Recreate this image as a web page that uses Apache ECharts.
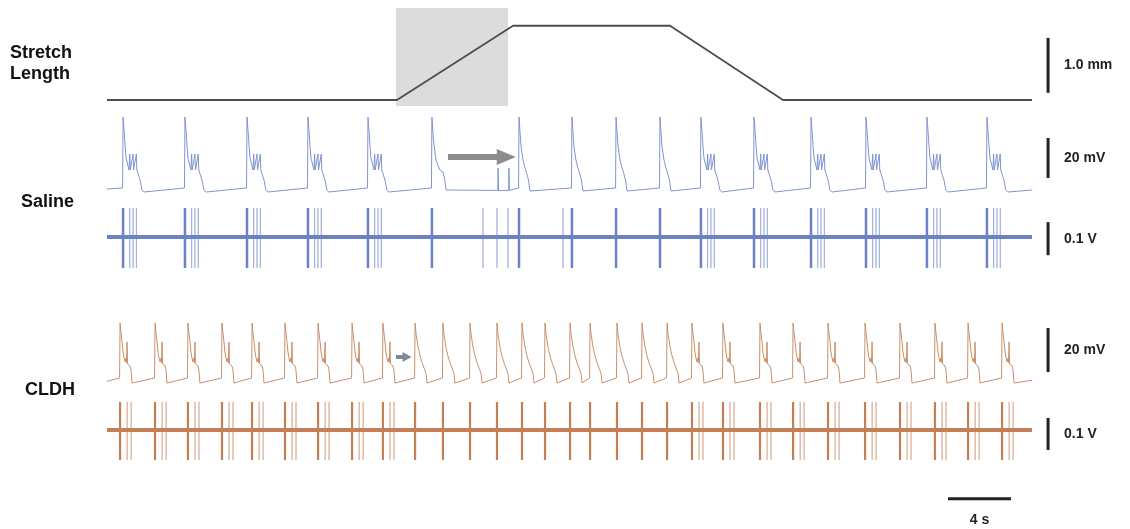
<!DOCTYPE html>
<html><head><meta charset="utf-8">
<script src="https://cdn.jsdelivr.net/npm/echarts@6/dist/echarts.min.js"></script>
<style>html,body{margin:0;padding:0;background:#fff}#c{width:1130px;height:529px}</style>
</head><body><div id="c"></div>
<script>
// ================= DATA (time in s, values in physical units) =================
const tEnd = 58.73;

// Stretch length trace (mm)
const stretchT  = [0, 18.41, 25.78, 35.75, 42.92, 58.73];
const stretchMm = [0, 0, 1.35, 1.35, 0, 0];
const stretchWindow = [18.35, 25.46];

// Saline intracellular bursts: peak times (s) and burst kind
const salineBurstT = [1.02, 4.95, 8.89, 12.76, 16.57, 20.63, 26.16, 29.52, 32.32, 35.11, 37.71, 41.08, 44.70, 48.19, 52.06, 55.87];
const salineBurstKind = ['full','full','full','full','full','mid','short','short','short','short','full','full','full','full','full','full'];
// burst waveforms: [dt (s), mV relative to rest]
const salineFullShape  = [[-0.03,0],[0,35.5],[0.063,29],[0.127,21.5],[0.19,15],[0.317,11],[0.38,9],[0.425,17],[0.457,9],[0.57,10],[0.635,17],[0.667,9],[0.76,10],[0.845,17],[0.876,9],[0.95,8],[1.08,4],[1.2,-1],[1.33,-2]];
const salineMidShape   = [[-0.03,0],[0,35.5],[0.063,28],[0.127,22],[0.254,14],[0.5,9],[0.6,10],[0.7,8],[0.8,5],[0.9,-1],[1.0,-2]];
const salineShortShape = [[-0.03,0],[0,35.5],[0.063,28],[0.127,21],[0.254,14],[0.38,10],[0.5,7],[0.6,4],[0.7,-1.5],[0.8,-2]];
const salineLoneSpikeT = [24.83, 25.52];
const loneSpikeShape   = [[-0.02,-1.2],[0,10],[0.03,-1.2]];
const salineStart = [0, -0.5];
const salineEnd   = [58.73, -1];

// Saline extracellular units: spike offsets (s) after each burst peak
const salineFullUnitOffsets = [0.425, 0.635, 0.845];
const salineMidUnitOffsets  = [];
const salineShortUnitOffsets = [];
const salineLoneUnitT = [23.87, 24.76, 25.46, 28.95];
const salineUnitTopV = 0.088, salineUnitBottomV = -0.094;

// CLDH intracellular bursts
const cldhBurstT = [0.83, 3.05, 5.14, 7.30, 9.21, 11.30, 13.40, 15.56, 17.52, 19.56, 21.33, 23.05, 24.76, 26.35, 27.81, 29.40, 30.67, 32.38, 33.97, 35.56, 37.14, 39.11, 41.46, 43.56, 45.78, 48.13, 50.35, 52.57, 54.67, 56.83];
const cldhBurstKind = ['full','full','full','full','full','full','full','full','full',
  'short','short','short','short','short','short','short','short','short','short','short',
  'full','full','full','full','full','full','full','full','full','full'];
const cldhFullShape  = [[-0.03,0],[0,25],[0.063,20.5],[0.127,16.4],[0.19,11.8],[0.254,9.1],[0.317,7.3],[0.38,9.1],[0.41,7],[0.444,16.4],[0.476,6.4],[0.571,7.3],[0.635,5.5],[0.698,3.6],[0.76,-2.3],[0.825,-2.7]];
const cldhShortShape = [[-0.03,0],[0,25],[0.063,20],[0.19,14],[0.317,10],[0.444,7],[0.571,4.5],[0.7,2],[0.76,-2.3],[0.825,-2.7]];
const cldhStart = [0, -1.5];
const cldhEnd   = [58.73, -1];

// CLDH extracellular units
const cldhFullUnitOffsets  = [0.45, 0.7];
const cldhShortUnitOffsets = [];
const cldhUnitTopV = 0.0875, cldhUnitBottomV = -0.094;

// Scale bars (physical sizes)
const lengthBarMm = [0.13, 1.13];
const salineMvBar = [5, 25];
const salineVBar  = [-0.055, 0.045];
const cldhMvBar   = [2.7, 22.7];
const cldhVBar    = [-0.0625, 0.0375];
const timeBarS    = [53.4, 57.4];
const scaleBarT   = 59.75;

// Arrows (data coords)
const salineArrow = [[21.65, 15.5], [25.35, 15.5]];
const cldhArrow   = [[18.35, 9.5], [19.05, 9.5]];

// ================= BUILD =================
function buildTrace(start, times, kinds, shapes, end, extra) {
  const d = [start];
  times.forEach((t, i) => shapes[kinds[i]].forEach(([dt, v]) => d.push([t + dt, v])));
  (extra || []).forEach(p => d.push(p));
  d.push(end);
  d.sort((a, b) => a[0] - b[0]);
  return d;
}
function unitLines(times, top, bottom) {
  const d = [];
  times.forEach(t => { d.push([t, 0], [t, top], [t, bottom], [t, 0]); });
  return d;
}
function unitTimes(times, kinds, offsets) {
  const out = [];
  times.forEach((t, i) => offsets[kinds[i]].forEach(o => out.push(t + o)));
  return out;
}

const salineLone = [];
salineLoneSpikeT.forEach(t => loneSpikeShape.forEach(([dt, v]) => salineLone.push([t + dt, v])));
const salineIntra = buildTrace(salineStart, salineBurstT, salineBurstKind,
  {full: salineFullShape, mid: salineMidShape, short: salineShortShape}, salineEnd, salineLone);
const cldhIntra = buildTrace(cldhStart, cldhBurstT, cldhBurstKind,
  {full: cldhFullShape, short: cldhShortShape}, cldhEnd);

const salineSecT = unitTimes(salineBurstT, salineBurstKind,
  {full: salineFullUnitOffsets, mid: salineMidUnitOffsets, short: salineShortUnitOffsets}).concat(salineLoneUnitT);
const cldhSecT = unitTimes(cldhBurstT, cldhBurstKind, {full: cldhFullUnitOffsets, short: cldhShortUnitOffsets});

const SAL_I = '#8193d0', SAL_E = '#6d82c6', CL_I = '#c98f6a', CL_E = '#c47f55';
const FONT = "'Liberation Sans', Arial, sans-serif";

const chart = echarts.init(document.getElementById('c'), null, {renderer: 'canvas'});
const gridDefs = [
  {top: 8,   height: 98, min: -0.109, max: 1.673},
  {top: 110, height: 90, min: -6,     max: 39},
  {top: 200, height: 75, min: -0.115, max: 0.112},
  {top: 310, height: 85, min: -7.73,  max: 30.9},
  {top: 395, height: 75, min: -0.125, max: 0.109}
];
const option = {
  animation: false,
  grid: gridDefs.map(g => ({left: 107, width: 925, top: g.top, height: g.height})),
  xAxis: gridDefs.map((g, i) => ({type: 'value', gridIndex: i, min: 0, max: tEnd, show: false})),
  yAxis: gridDefs.map((g, i) => ({type: 'value', gridIndex: i, min: g.min, max: g.max, show: false})),
  series: [
    {type: 'line', xAxisIndex: 0, yAxisIndex: 0, symbol: 'none', silent: true,
     data: stretchT.map((t, i) => [t, stretchMm[i]]),
     lineStyle: {color: '#4d4d4d', width: 1.8},
     markArea: {silent: true, itemStyle: {color: '#dcdcdc'},
       data: [[{xAxis: stretchWindow[0]}, {xAxis: stretchWindow[1]}]]}},
    {type: 'line', xAxisIndex: 1, yAxisIndex: 1, symbol: 'none', silent: true, data: salineIntra,
     lineStyle: {color: SAL_I, width: 1},
     markLine: {silent: true, symbol: ['none', 'triangle'], symbolSize: [16, 19], label: {show: false},
       lineStyle: {color: '#8c8c8c', width: 6, type: 'solid'},
       data: [[{coord: salineArrow[0]}, {coord: salineArrow[1]}]]}},
    {type: 'line', xAxisIndex: 2, yAxisIndex: 2, symbol: 'none', silent: true,
     data: unitLines(salineSecT, salineUnitTopV, salineUnitBottomV),
     lineStyle: {color: SAL_E, width: 1, opacity: 0.45}},
    {type: 'line', xAxisIndex: 2, yAxisIndex: 2, symbol: 'none', silent: true,
     data: unitLines(salineBurstT, salineUnitTopV, salineUnitBottomV),
     lineStyle: {color: SAL_E, width: 2.5}},
    {type: 'line', xAxisIndex: 2, yAxisIndex: 2, symbol: 'none', silent: true,
     data: [[0, 0], [tEnd, 0]], lineStyle: {color: SAL_E, width: 4}},
    {type: 'line', xAxisIndex: 3, yAxisIndex: 3, symbol: 'none', silent: true, data: cldhIntra,
     lineStyle: {color: CL_I, width: 1},
     markLine: {silent: true, symbol: ['none', 'triangle'], symbolSize: [10, 9], label: {show: false},
       lineStyle: {color: '#7f8a96', width: 4, type: 'solid'},
       data: [[{coord: cldhArrow[0]}, {coord: cldhArrow[1]}]]}},
    {type: 'line', xAxisIndex: 4, yAxisIndex: 4, symbol: 'none', silent: true,
     data: unitLines(cldhSecT, cldhUnitTopV, cldhUnitBottomV),
     lineStyle: {color: CL_E, width: 1, opacity: 0.45}},
    {type: 'line', xAxisIndex: 4, yAxisIndex: 4, symbol: 'none', silent: true,
     data: unitLines(cldhBurstT, cldhUnitTopV, cldhUnitBottomV),
     lineStyle: {color: CL_E, width: 2.2}},
    {type: 'line', xAxisIndex: 4, yAxisIndex: 4, symbol: 'none', silent: true,
     data: [[0, 0], [tEnd, 0]], lineStyle: {color: CL_E, width: 4}}
  ]
};
chart.setOption(option);

// ---- scale bars and labels ----
const px = (g, x, y) => chart.convertToPixel({gridIndex: g}, [x, y]);
const graphics = [];
function vbar(g, range, text) {
  const a = px(g, scaleBarT, range[0]), b = px(g, scaleBarT, range[1]);
  graphics.push({type: 'line', shape: {x1: a[0], y1: a[1], x2: b[0], y2: b[1]},
    style: {stroke: '#222', lineWidth: 3}});
  graphics.push({type: 'text', x: a[0] + 16, y: (a[1] + b[1]) / 2,
    style: {text: text, font: 'bold 14px ' + FONT, fill: '#222', textVerticalAlign: 'middle', verticalAlign: 'middle'}});
}
vbar(0, lengthBarMm, '1.0 mm');
vbar(1, salineMvBar, '20 mV');
vbar(2, salineVBar, '0.1 V');
vbar(3, cldhMvBar, '20 mV');
vbar(4, cldhVBar, '0.1 V');
const ta = px(4, timeBarS[0], -0.215), tb = px(4, timeBarS[1], -0.215);
graphics.push({type: 'line', shape: {x1: ta[0], y1: ta[1], x2: tb[0], y2: tb[1]}, style: {stroke: '#222', lineWidth: 3}});
graphics.push({type: 'text', x: (ta[0] + tb[0]) / 2, y: ta[1] + 21,
  style: {text: '4 s', font: 'bold 14px ' + FONT, fill: '#222', textAlign: 'center', align: 'center', textVerticalAlign: 'middle', verticalAlign: 'middle'}});
function label(text, x, y) {
  graphics.push({type: 'text', x: x, y: y,
    style: {text: text, font: 'bold 18px ' + FONT, fill: '#111', textVerticalAlign: 'middle', verticalAlign: 'middle'}});
}
label('Stretch', 10, 53);
label('Length', 10, 74);
label('Saline', 21, 202);
label('CLDH', 25, 390);
chart.setOption({graphic: graphics});
</script></body></html>
